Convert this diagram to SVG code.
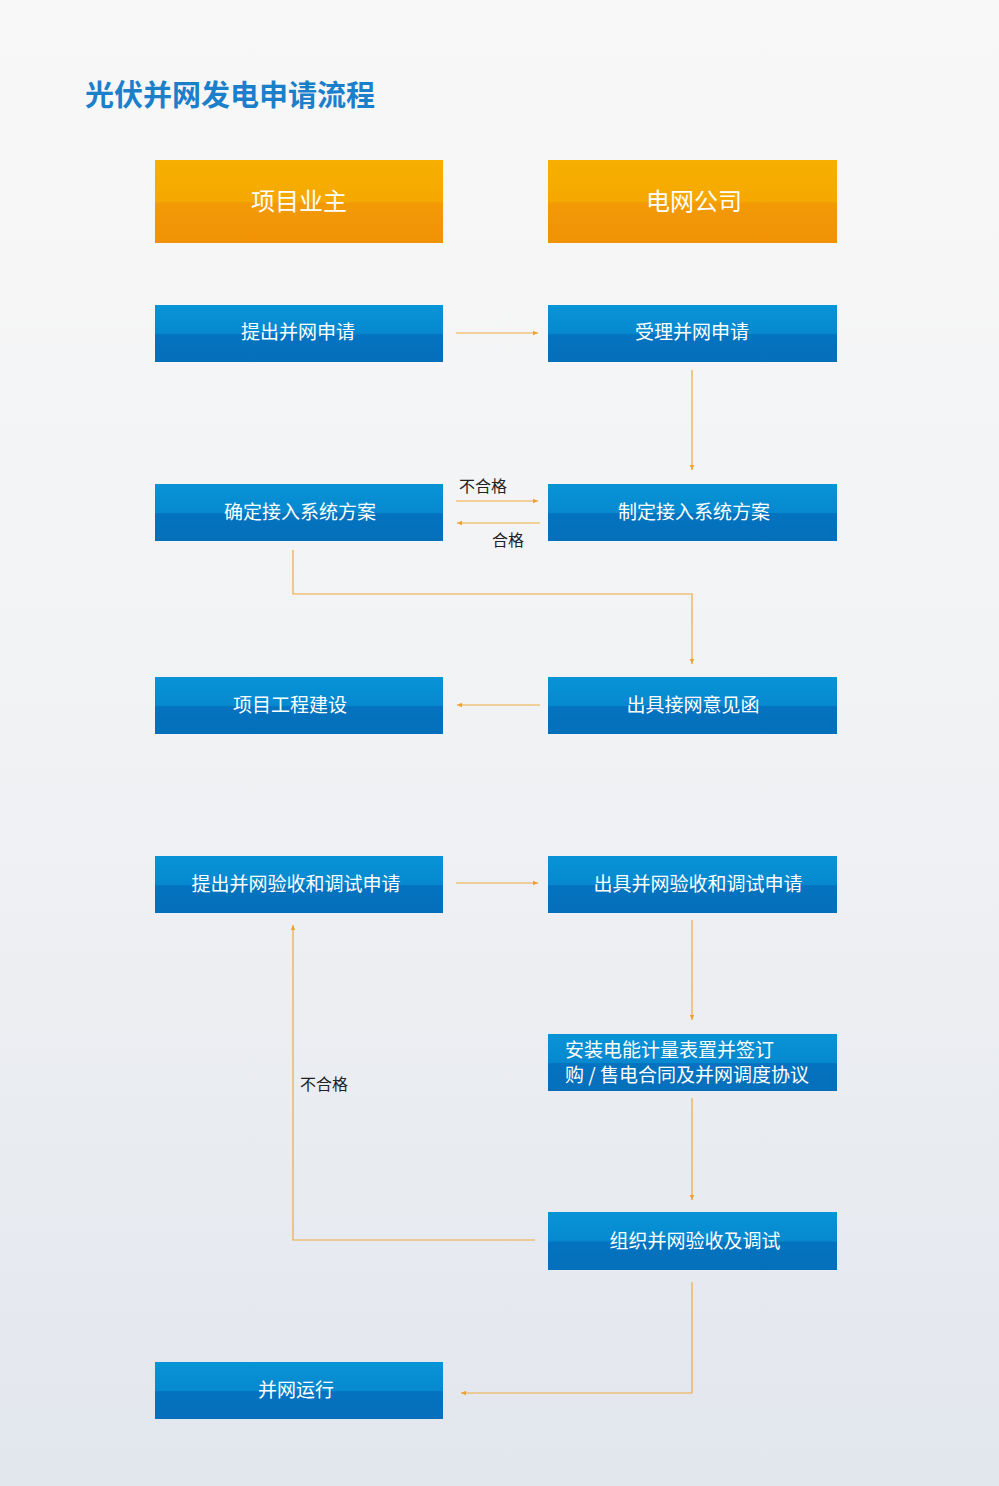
<svg xmlns="http://www.w3.org/2000/svg" width="999" height="1486" viewBox="0 0 999 1486">
<defs>
<linearGradient id="bg" x1="0" y1="0" x2="0" y2="1"><stop offset="0" stop-color="#f8f8f8"/><stop offset="0.5" stop-color="#f1f2f4"/><stop offset="1" stop-color="#e2e6ed"/></linearGradient>
<linearGradient id="og" x1="0" y1="0" x2="0" y2="1"><stop offset="0" stop-color="#f6b000"/><stop offset="0.5" stop-color="#f5a800"/><stop offset="0.52" stop-color="#f29a06"/><stop offset="1" stop-color="#f19206"/></linearGradient>
<linearGradient id="blg" x1="0" y1="0" x2="0" y2="1"><stop offset="0" stop-color="#0894d6"/><stop offset="0.5" stop-color="#0688cf"/><stop offset="0.52" stop-color="#0473bf"/><stop offset="1" stop-color="#056fbb"/></linearGradient>
<marker id="ah" markerWidth="6" markerHeight="6" refX="5" refY="3" orient="auto" markerUnits="userSpaceOnUse"><path d="M0,0.8 L5,3 L0,5.2Z" fill="#f0a030"/></marker>
<style>
.o{fill:url(#og)}
.b{fill:url(#blg)}
.t{font-family:"Noto Sans CJK SC",sans-serif;fill:#fff;text-anchor:middle;font-size:19px}
.h{font-size:24px}
.l{font-family:"Noto Sans CJK SC",sans-serif;fill:#222;font-size:16px}
.c{fill:none;stroke:#f0aa40;stroke-width:1.2;marker-end:url(#ah)}
</style>
</defs>
<rect width="999" height="1486" fill="url(#bg)"/>
<text x="85" y="106" font-family="Noto Sans CJK SC,sans-serif" font-size="29" font-weight="bold" fill="#1b7fca">光伏并网发电申请流程</text>
<g id="n-owner"><rect class="o" x="155" y="160" width="288" height="83"/><text class="t h" x="299" y="210">项目业主</text></g>
<g id="n-grid"><rect class="o" x="548" y="160" width="289" height="83"/><text class="t h" x="694" y="210">电网公司</text></g>
<g id="n1"><rect class="b" x="155" y="305" width="288" height="57"/><text class="t" x="298" y="339">提出并网申请</text></g>
<g id="n2"><rect class="b" x="548" y="305" width="289" height="57"/><text class="t" x="692" y="339">受理并网申请</text></g>
<g id="n3"><rect class="b" x="155" y="484" width="288" height="57"/><text class="t" x="300" y="519">确定接入系统方案</text></g>
<g id="n4"><rect class="b" x="548" y="484" width="289" height="57"/><text class="t" x="694" y="519">制定接入系统方案</text></g>
<g id="n5"><rect class="b" x="155" y="677" width="288" height="57"/><text class="t" x="290" y="712">项目工程建设</text></g>
<g id="n6"><rect class="b" x="548" y="677" width="289" height="57"/><text class="t" x="693" y="712">出具接网意见函</text></g>
<g id="n7"><rect class="b" x="155" y="856" width="288" height="57"/><text class="t" x="296" y="891">提出并网验收和调试申请</text></g>
<g id="n8"><rect class="b" x="548" y="856" width="289" height="57"/><text class="t" x="698" y="891">出具并网验收和调试申请</text></g>
<g id="n9"><rect class="b" x="548" y="1034" width="289" height="57"/><text class="t" x="565" y="1057" text-anchor="start" style="text-anchor:start">安装电能计量表置并签订</text><text class="t" x="565" y="1082" style="text-anchor:start">购 / 售电合同及并网调度协议</text></g>
<g id="n10"><rect class="b" x="548" y="1212" width="289" height="58"/><text class="t" x="695" y="1248">组织并网验收及调试</text></g>
<g id="n11"><rect class="b" x="155" y="1362" width="288" height="57"/><text class="t" x="296" y="1397">并网运行</text></g>
<g id="connectors">
<path class="c" d="M456,333 H538"/>
<path class="c" d="M692,370 V470"/>
<path class="c" d="M456,501 H538"/>
<path class="c" d="M540,523 H457"/>
<path class="c" d="M293,550 V594 H692 V664"/>
<path class="c" d="M540,705 H457"/>
<path class="c" d="M456,883 H538"/>
<path class="c" d="M692,920 V1020"/>
<path class="c" d="M692,1098 V1200"/>
<path class="c" d="M535,1240 H293 V925"/>
<path class="c" d="M692,1282 V1393 H461"/>
<text class="l" x="459" y="492">不合格</text>
<text class="l" x="492" y="546">合格</text>
<text class="l" x="300" y="1090">不合格</text>
</g>
</svg>
